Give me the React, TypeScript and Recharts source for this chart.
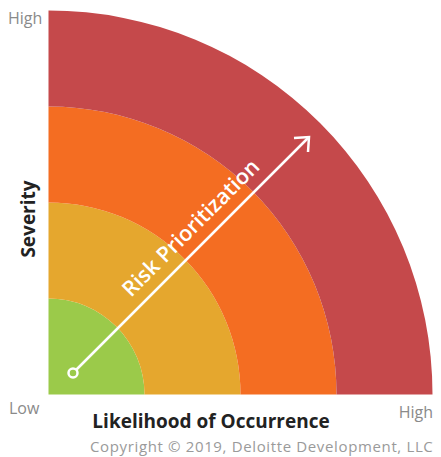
import React from "react";
import { PieChart, Pie, Cell } from "recharts";

// risk bands, inner to outer (each band is one quarter ring)
const bands = ["Low", "Medium", "High", "Critical"];
const bandColors = ["#9BCA4A", "#E5A72E", "#F46D22", "#C5494B"];
const bandValues = [1, 1, 1, 1];

const axisLabels = { yHigh: "High", low: "Low", xHigh: "High" };
const xTitle = "Likelihood of Occurrence";
const yTitle = "Severity";
const arrowLabel = "Risk Prioritization";
const copyright = "Copyright © 2019, Deloitte Development, LLC.";

const W = 441;
const H = 457;
const CX = 48.5;
const CY = 394.5;
const RING = 96;
const FONT = "'Open Sans', Lato, sans-serif";

export default function App() {
  return (
    <div
      style={{
        position: "relative",
        width: W,
        height: H,
        marginTop: -8,
        marginLeft: -8,
        background: "#fff",
      }}
    >
      <PieChart width={W} height={H} margin={{ top: 0, right: 0, bottom: 0, left: 0 }}>
        {bands.map((b, i) => (
          <Pie
            key={b}
            data={[{ name: b, value: bandValues[i] }]}
            dataKey="value"
            cx={CX}
            cy={CY}
            startAngle={0}
            endAngle={90}
            innerRadius={i * RING}
            outerRadius={(i + 1) * RING}
            stroke="none"
            isAnimationActive={false}
          >
            <Cell fill={bandColors[i]} />
          </Pie>
        ))}
      </PieChart>
      <svg
        width={W}
        height={H}
        style={{ position: "absolute", left: 0, top: 0, fontFamily: FONT }}
      >
        {/* arrow */}
        <line x1={76} y1={370} x2={308} y2={138} stroke="#fff" strokeWidth={2.5} />
        <polyline
          points="294,138 309,137 308,152"
          fill="none"
          stroke="#fff"
          strokeWidth={2.5}
        />
        <circle cx={73} cy={373} r={4.5} fill="#9BCA4A" stroke="#fff" strokeWidth={2.5} />
        <text
          x={190}
          y={227}
          transform="rotate(-45 190 227)"
          textAnchor="middle"
          dominantBaseline="central"
          fill="#fff"
          fontSize={21.5}
          fontWeight={600}
        >
          {arrowLabel}
        </text>

        {/* axis labels */}
        <text x={8} y={24} fill="#8a8a8a" fontSize={16}>
          {axisLabels.yHigh}
        </text>
        <text x={9} y={414} fill="#8a8a8a" fontSize={16}>
          {axisLabels.low}
        </text>
        <text x={433} y={418} textAnchor="end" fill="#8a8a8a" fontSize={16}>
          {axisLabels.xHigh}
        </text>
        <text
          x={28}
          y={219}
          transform="rotate(-90 28 219)"
          textAnchor="middle"
          dominantBaseline="central"
          fill="#222"
          fontSize={19}
          fontWeight={700}
        >
          {yTitle}
        </text>
        <text
          x={211}
          y={421}
          textAnchor="middle"
          dominantBaseline="central"
          fill="#222"
          fontSize={19}
          fontWeight={700}
        >
          {xTitle}
        </text>
        <text
          x={90}
          y={452}
          fill="#9a9a9a"
          fontSize={15}
          letterSpacing={0.6}
          textLength={348}
          lengthAdjust="spacing"
        >
          {copyright}
        </text>
      </svg>
    </div>
  );
}
